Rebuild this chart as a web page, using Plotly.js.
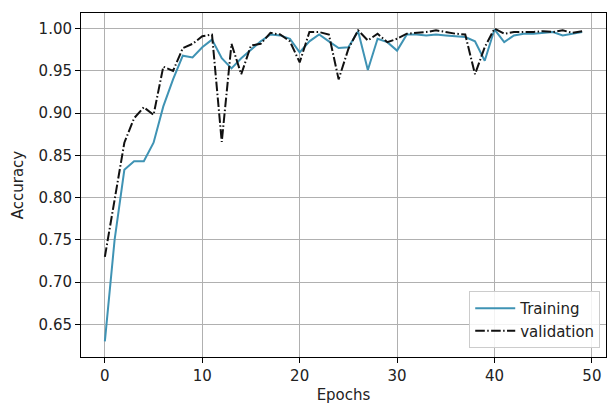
<!DOCTYPE html>
<html>
<head>
<meta charset="utf-8">
<script src="https://cdn.plot.ly/plotly-3.0.1.min.js"></script>
<style>html,body{margin:0;padding:0;background:#fff;}#chart{width:607px;height:404px;}</style>
</head>
<body>
<div id="chart"></div>
<script>
const epochs = Array.from({length: 50}, (_, i) => i);
const training = [
  0.630, 0.750, 0.833, 0.843, 0.843, 0.865, 0.908, 0.940, 0.968, 0.966,
  0.978, 0.987, 0.965, 0.953, 0.965, 0.975, 0.985, 0.993, 0.992, 0.988,
  0.972, 0.985, 0.993, 0.985, 0.977, 0.978, 0.997, 0.951, 0.988, 0.984,
  0.974, 0.993, 0.993, 0.992, 0.993, 0.992, 0.991, 0.990, 0.985, 0.962,
  0.999, 0.984, 0.992, 0.994, 0.994, 0.995, 0.996, 0.992, 0.994, 0.996
];
const validation = [
  0.730, 0.800, 0.865, 0.894, 0.907, 0.898, 0.955, 0.950, 0.977, 0.982,
  0.991, 0.993, 0.866, 0.982, 0.946, 0.980, 0.982, 0.995, 0.993, 0.985,
  0.960, 0.996, 0.996, 0.993, 0.940, 0.976, 0.998, 0.986, 0.994, 0.984,
  0.988, 0.994, 0.995, 0.996, 0.998, 0.996, 0.994, 0.993, 0.946, 0.978,
  1.000, 0.994, 0.996, 0.996, 0.996, 0.997, 0.996, 0.998, 0.995, 0.997
];
const xTicks = [0, 10, 20, 30, 40, 50];
const yTicks = [0.65, 0.70, 0.75, 0.80, 0.85, 0.90, 0.95, 1.00];

const font = {family: 'DejaVu Sans, sans-serif', size: 15, color: '#222'};
const traces = [
  {x: epochs, y: training, name: 'Training', mode: 'lines',
   line: {color: '#3f93b4', width: 2}},
  {x: epochs, y: validation, name: 'validation', mode: 'lines',
   line: {color: '#111', width: 2, dash: '9.6px,2.4px,1.5px,2.4px'}}
];
const axisCommon = {
  showgrid: true, gridcolor: '#b0b0b0', gridwidth: 1,
  showline: true, linecolor: '#000', linewidth: 1, mirror: true,
  ticks: 'outside', ticklen: 5, tickcolor: '#000', tickwidth: 1,
  zeroline: false, tickfont: font
};
const layout = {
  width: 607, height: 404,
  margin: {l: 81, r: 1, t: 13, b: 47},
  paper_bgcolor: '#fff', plot_bgcolor: '#fff',
  font: font,
  xaxis: Object.assign({}, axisCommon, {
    range: [-2.45, 51.45], tickvals: xTicks, ticktext: xTicks.map(String),
    title: {text: 'Epochs', font: font, standoff: 7}
  }),
  yaxis: Object.assign({}, axisCommon, {
    range: [0.6115, 1.0185], tickvals: yTicks, ticktext: yTicks.map(v => v.toFixed(2)),
    title: {text: 'Accuracy', font: font, standoff: 11}
  }),
  showlegend: true,
  legend: {x: 0.989, y: 0.026, xanchor: 'right', yanchor: 'bottom',
    bgcolor: 'rgba(255,255,255,0.85)', bordercolor: '#cccccc', borderwidth: 1,
    font: font, tracegroupgap: 0, itemwidth: 40}
};
Plotly.newPlot('chart', traces, layout, {displayModeBar: false, staticPlot: true});
</script>
</body>
</html>
